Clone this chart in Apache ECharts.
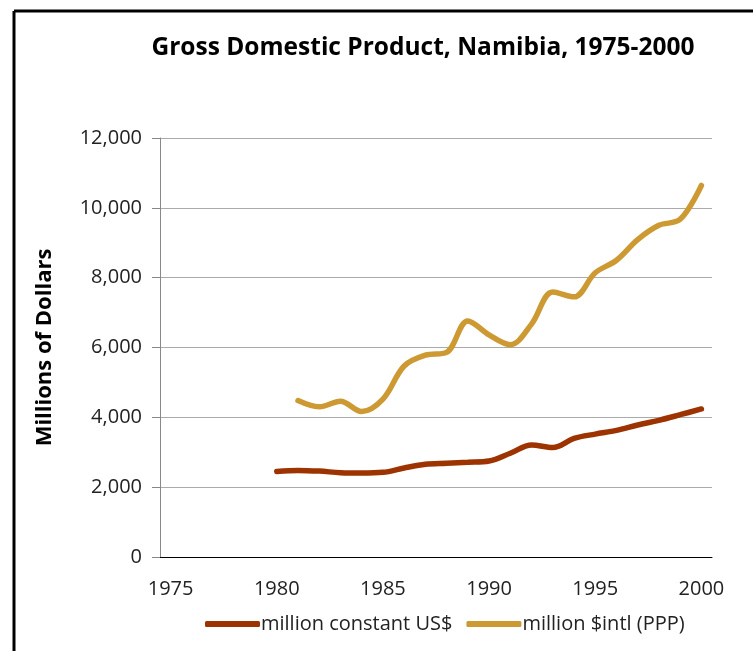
<!DOCTYPE html>
<html>
<head>
<meta charset="utf-8">
<script src="https://cdn.jsdelivr.net/npm/echarts@6/dist/echarts.min.js"></script>
<style>
  html, body { margin: 0; padding: 0; background: #fff; }
  #chart { width: 753px; height: 651px; }
</style>
</head>
<body>
<div id="chart"></div>
<script>
// years on the category axis
var years = [];
for (var y = 1975; y <= 2000; y++) { years.push(String(y)); }

// million constant US$ (no data before 1980)
var constantUSD = [null, null, null, null, null,
  2450, 2480, 2460, 2415, 2405, 2425, 2550, 2655, 2685, 2715,
  2750, 2970, 3210, 3135, 3395, 3520, 3625, 3780, 3915, 4075, 4240];

// million $intl (PPP) (no data before 1981)
var intlPPP = [null, null, null, null, null, null,
  4480, 4300, 4460, 4165, 4520, 5470, 5780, 5860, 6760,
  6360, 6080, 6670, 7590, 7450, 8140, 8500, 9090, 9500, 9670, 10640];

var yTicks = [0, 2000, 4000, 6000, 8000, 10000, 12000];

var font = '"Open Sans", "Noto Sans", sans-serif';
var chart = echarts.init(document.getElementById('chart'));

var option = {
  backgroundColor: '#fff',
  animation: false,
  title: {
    text: 'Gross Domestic Product, Namibia, 1975-2000',
    left: 418, top: 31, textAlign: 'center',
    textStyle: { fontFamily: font, fontSize: 24.5, fontWeight: 'bold', color: '#000' }
  },
  legend: {
    bottom: 12, left: 200,
    icon: 'roundRect', itemWidth: 55, itemHeight: 6, itemGap: 14,
    textStyle: { fontFamily: font, fontSize: 20, color: '#222', padding: [0, 0, 0, -4] },
    data: ['million constant US$', 'million $intl (PPP)']
  },
  grid: { left: 160, right: 41, top: 138, bottom: 94 },
  xAxis: {
    type: 'category',
    data: years,
    boundaryGap: true,
    axisLine: { lineStyle: { color: '#000', width: 1 } },
    axisTick: { show: false },
    axisLabel: { interval: 4, margin: 22, fontFamily: font, fontSize: 20, color: '#222' }
  },
  yAxis: {
    type: 'value',
    min: yTicks[0], max: yTicks[yTicks.length - 1], interval: 2000,
    name: 'Millions of Dollars',
    nameLocation: 'middle', nameGap: 104,
    nameTextStyle: { fontFamily: font, fontSize: 22, fontWeight: 'bold', color: '#000' },
    axisLine: { show: true, lineStyle: { color: '#888' } },
    axisTick: { show: true, length: 8, lineStyle: { color: '#888' } },
    splitLine: { lineStyle: { color: '#aaa' } },
    axisLabel: {
      margin: 18, fontFamily: font, fontSize: 20, color: '#222',
      formatter: function (v) { return v.toLocaleString('en-US'); }
    }
  },
  series: [
    {
      name: 'million constant US$', type: 'line', data: constantUSD,
      smooth: 0.35, showSymbol: false,
      color: '#9C3300',
      lineStyle: { width: 5.5, cap: 'round', color: '#9C3300' }
    },
    {
      name: 'million $intl (PPP)', type: 'line', data: intlPPP,
      smooth: 0.35, showSymbol: false,
      color: '#CC9933',
      lineStyle: { width: 5.5, cap: 'round', color: '#CC9933' }
    }
  ],
  graphic: [
    { type: 'line', shape: { x1: 14, y1: 11, x2: 753, y2: 11 }, style: { stroke: '#000', lineWidth: 3 } },
    { type: 'line', shape: { x1: 14, y1: 11, x2: 14, y2: 651 }, style: { stroke: '#000', lineWidth: 3 } }
  ]
};

chart.setOption(option);
</script>
</body>
</html>
